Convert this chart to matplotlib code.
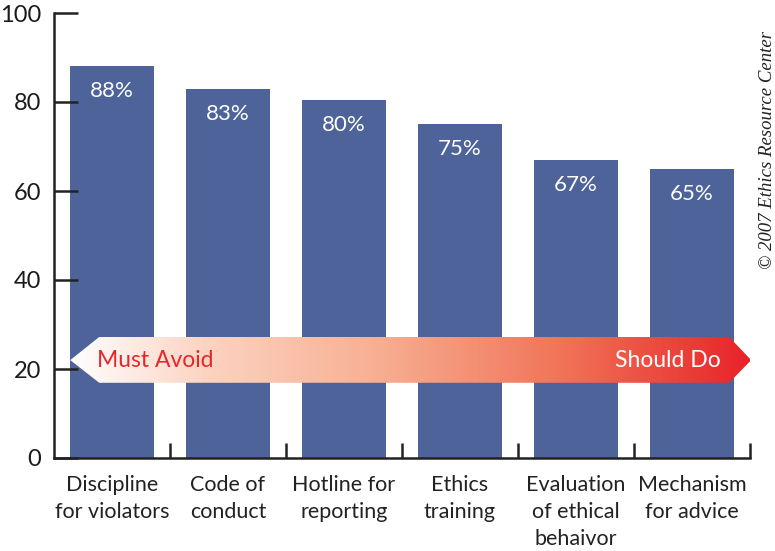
import matplotlib
matplotlib.use("Agg")
import matplotlib.pyplot as plt
import numpy as np
from matplotlib.colors import LinearSegmentedColormap
from matplotlib.patches import Polygon

categories = ["Discipline\nfor violators", "Code of\nconduct", "Hotline for\nreporting",
              "Ethics\ntraining", "Evaluation\nof ethical\nbehaivor", "Mechanism\nfor advice"]
values = [88, 83, 80.5, 75, 67, 65]
value_labels = ["88%", "83%", "80%", "75%", "67%", "65%"]
yticks = [0, 20, 40, 60, 80, 100]

bar_color = "#4D6399"
font = "Lato"

fig = plt.figure(figsize=(7.75, 5.51), dpi=100)
ax = fig.add_axes([54/775, 93/551, 696/775, 445/551])

x = np.arange(len(categories))
ax.bar(x, values, width=0.72, color=bar_color, zorder=1)
for xi, v, lab in zip(x, values, value_labels):
    ax.text(xi, v - 5.6, lab, ha="center", va="center", color="white",
            fontsize=16, family=font)

ax.set_xlim(-0.5, 5.5)
ax.set_ylim(0, 100)
ax.set_yticks(yticks)
ax.set_yticklabels([str(t) for t in yticks], fontsize=17, family=font, color="#1a1a1a")
ax.set_xticks(np.arange(0.5, 5.6, 1.0))
ax.set_xticklabels([])
ax.tick_params(axis="y", direction="in", length=17, width=1.8, pad=9, color="#222222")
ax.tick_params(axis="x", direction="in", length=11, width=1.8, color="#222222")
for xi, c in zip(x, categories):
    ax.text(xi, -3.9, c, ha="center", va="top", fontsize=15.5, family=font,
            color="#222222", linespacing=1.42)

for s in ["top", "right"]:
    ax.spines[s].set_visible(False)
for s in ["left", "bottom"]:
    ax.spines[s].set_linewidth(1.8)
    ax.spines[s].set_color("#222222")

# gradient arrow
cmap = LinearSegmentedColormap.from_list(
    "arr", [(0, "#FFFFFF"), (0.2, "#FCD3C1"), (0.45, "#F7AF93"),
            (0.72, "#F17458"), (1.0, "#E82329")])
x0, x1 = -0.36, 5.51
hb0, hb1 = -0.11, 5.32
ytop, ybot, ymid = 27.2, 16.9, 22.0
poly = Polygon([(x0, ymid), (hb0, ytop), (hb1, ytop), (x1, ymid), (hb1, ybot), (hb0, ybot)],
               closed=True, facecolor="none", edgecolor="none", transform=ax.transData)
ax.add_patch(poly)
grad = np.linspace(0, 1, 512).reshape(1, -1)
im = ax.imshow(grad, cmap=cmap, extent=[x0, x1, ybot, ytop], aspect="auto",
               zorder=2, interpolation="bilinear")
im.set_clip_path(poly)
im.set_clip_on(True)
poly.set_clip_on(False)
ax.set_xlim(-0.5, 5.5)
ax.set_ylim(0, 100)
ax.text(-0.13, ymid, "Must Avoid", ha="left", va="center", color="#E8262A",
        fontsize=16.5, family=font, zorder=3)
ax.text(5.25, ymid, "Should Do", ha="right", va="center", color="white",
        fontsize=16.5, family=font, zorder=3)

fig.text(768/775, 1 - 150/551, "© 2007 Ethics Resource Center", rotation=90,
         ha="center", va="center", fontsize=13.5, family="Liberation Serif",
         style="italic", color="#222222")

fig.savefig("out.png", dpi=100)
